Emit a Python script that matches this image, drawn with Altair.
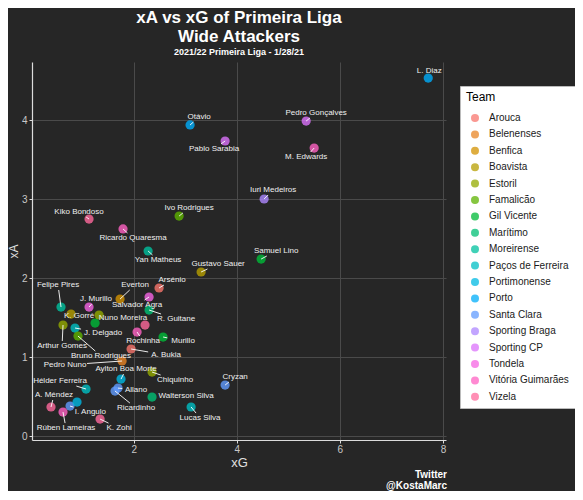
import math
import altair as alt
import pandas as pd

# ---------------- data ----------------
teams = ["Arouca", "Belenenses", "Benfica", "Boavista", "Estoril", "Famalicão",
         "Gil Vicente", "Marítimo", "Moreirense", "Paços de Ferreira", "Portimonense",
         "Porto", "Santa Clara", "Sporting Braga", "Sporting CP", "Tondela",
         "Vitória Guimarães", "Vizela"]

players = ["L. Diaz", "Otávio", "Pedro Gonçalves", "Pablo Sarabia", "M. Edwards",
           "Iuri Medeiros", "Ivo Rodrigues", "Kiko Bondoso", "Ricardo Quaresma", "Yan Matheus",
           "Samuel Lino", "Gustavo Sauer", "Arsénio", "Everton", "Salvador Agra",
           "R. Guitane", "Felipe Pires", "J. Murillo", "K. Gorré", "Nuno Moreira",
           "Arthur Gomes", "J. Delgado", "Bruno Rodrigues", "Rochinha", "Murillo",
           "A. Bukia", "Pedro Nuno", "Aylton Boa Morte", "Chiquinho", "Hélder Ferreira",
           "Allano", "Ricardinho", "Walterson Silva", "Lucas Silva", "Cryzan",
           "A. Méndez", "I. Angulo", "Rúben Lameiras", "K. Zohi", "", "", ""]

player_team = ["Porto", "Porto", "Sporting CP", "Sporting CP", "Vitória Guimarães",
               "Sporting Braga", "Famalicão", "Vizela", "Vitória Guimarães", "Moreirense",
               "Gil Vicente", "Boavista", "Arouca", "Benfica", "Tondela",
               "Marítimo", "Moreirense", "Tondela", "Boavista", "Gil Vicente",
               "Estoril", "Paços de Ferreira", "Famalicão", "Vitória Guimarães", "Gil Vicente",
               "Arouca", "Belenenses", "Portimonense", "Estoril", "Paços de Ferreira",
               "Santa Clara", "Santa Clara", "Marítimo", "Paços de Ferreira", "Santa Clara",
               "Vizela", "Santa Clara", "Vitória Guimarães", "Vizela", "Estoril", "Vizela",
               "Portimonense"]

xg = [7.715, 3.093, 5.346, 3.773, 5.501,
      4.530, 2.880, 1.132, 1.792, 2.278,
      4.472, 3.307, 2.491, 1.734, 2.297,
      2.297, 0.588, 1.132, 0.783, 1.249,
      0.627, 0.860, 0.918, 2.064, 2.569,
      1.948, 1.773, 1.753, 2.355, 1.074,
      1.695, 1.637, 2.355, 3.113, 3.773,
      0.394, 0.763, 0.627, 1.346, 1.326, 2.219, 0.899]

xa = [4.537, 3.942, 3.992, 3.739, 3.650,
      3.004, 2.788, 2.750, 2.624, 2.345,
      2.243, 2.079, 1.876, 1.736, 1.762,
      1.597, 1.635, 1.635, 1.546, 1.432,
      1.407, 1.369, 1.267, 1.318, 1.255,
      1.103, 0.951, 0.722, 0.811, 0.596,
      0.608, 0.570, 0.494, 0.368, 0.646,
      0.368, 0.380, 0.304, 0.215, 1.534, 1.407, 0.431]

# label centres, in data units
label_x = [7.734, 3.268, 5.540, 3.559, 5.346,
           4.705, 3.074, 0.938, 1.986, 2.472,
           4.763, 3.637, 2.744, 2.025, 2.064,
           2.821, 0.530, 1.268, 0.938, 1.792,
           0.608, 1.404, 1.365, 2.181, 2.957,
           2.627, 0.666, 1.850, 2.802, 0.569,
           2.045, 2.045, 3.016, 3.287, 3.967,
           0.452, 1.159, 0.685, 1.715, 1.326, 2.219, 0.899]

label_y = [4.626, 4.043, 4.094, 3.638, 3.536,
           3.118, 2.890, 2.839, 2.510, 2.231,
           2.345, 2.180, 1.977, 1.914, 1.660,
           1.483, 1.914, 1.736, 1.521, 1.496,
           1.141, 1.305, 1.014, 1.204, 1.204,
           1.027, 0.900, 0.849, 0.710, 0.697,
           0.583, 0.355, 0.507, 0.228, 0.748,
           0.520, 0.304, 0.101, 0.101, 1.534, 1.407, 0.431]

x_ticks = [2, 4, 6, 8]
y_ticks = [0, 1, 2, 3, 4]

# ---------------- styling ----------------
W, H = 414, 378
X_DOM = [0.025, 8.06]
Y_DOM = [-0.05, 4.74]
BG = "#262626"
FONT = "Liberation Sans"


def hcl_hex(h, c=100.0, l=65.0):
    Xn, Yn, Zn = 95.047, 100.0, 108.883
    den = Xn + 15 * Yn + 3 * Zn
    un, vn = 4 * Xn / den, 9 * Yn / den
    u = c * math.cos(math.radians(h))
    v = c * math.sin(math.radians(h))
    Y = Yn * ((l + 16) / 116) ** 3
    up = u / (13 * l) + un
    vp = v / (13 * l) + vn
    X = Y * 9 * up / (4 * vp)
    Z = Y * (12 - 3 * up - 20 * vp) / (4 * vp)
    X, Y, Z = X / 100, Y / 100, Z / 100
    r = 3.2404542 * X - 1.5371385 * Y - 0.4985314 * Z
    g = -0.9692660 * X + 1.8760108 * Y + 0.0415560 * Z
    b = 0.0556434 * X - 0.2040259 * Y + 1.0572252 * Z

    def gam(t):
        t = 12.92 * t if t <= 0.0031308 else 1.055 * t ** (1 / 2.4) - 0.055
        return max(0, min(255, round(t * 255)))

    return "#%02x%02x%02x" % (gam(r), gam(g), gam(b))


n = len(teams)
palette = [hcl_hex(15 + 360 * i / n) for i in range(n)]

# segment ends (label box edge), computed in pixel space
sx, sy, seg = [], [], []
kx = W / (X_DOM[1] - X_DOM[0])
ky = H / (Y_DOM[1] - Y_DOM[0])
for name, px, py, lx, ly in zip(players, xg, xa, label_x, label_y):
    dx = (lx - px) * kx
    dy = (ly - py) * ky
    hw = 2.05 * len(name) + 1.5
    hh = 5.0
    if abs(dx) <= hw and abs(dy) <= hh:
        sx.append(px); sy.append(py); seg.append(False)
        continue
    f = min(hw / abs(dx) if dx else 1e9, hh / abs(dy) if dy else 1e9)
    ex, ey = dx * (1 - f), dy * (1 - f)
    if math.hypot(ex, ey) < 2.5:
        sx.append(px); sy.append(py); seg.append(False)
        continue
    sx.append(px + ex / kx); sy.append(py + ey / ky); seg.append(True)

df = pd.DataFrame({"player": players, "Team": player_team, "xG": xg, "xA": xa,
                   "lx": label_x, "ly": label_y, "sx": sx, "sy": sy, "seg": seg})

xs = alt.Scale(domain=X_DOM, nice=False, zero=False)
ys = alt.Scale(domain=Y_DOM, nice=False, zero=False)

base = alt.Chart(df)

points = base.mark_circle(size=85, opacity=0.8).encode(
    x=alt.X("xG:Q", scale=xs, title="xG",
            axis=alt.Axis(values=x_ticks, format="d")),
    y=alt.Y("xA:Q", scale=ys, title="xA",
            axis=alt.Axis(values=y_ticks, format="d")),
    color=alt.Color("Team:N", scale=alt.Scale(domain=teams, range=palette),
                    legend=alt.Legend(title="Team", orient="none", legendX=428, legendY=24)),
)

segments = base.transform_filter("datum.seg").mark_rule(color="white", strokeWidth=0.9).encode(
    x="xG:Q", y="xA:Q", x2="sx:Q", y2="sy:Q"
)

labels = base.mark_text(font=FONT, fontSize=8, color="#f0f0f0", align="center",
                        baseline="middle").encode(
    x="lx:Q", y="ly:Q", text="player:N"
)

caption = alt.Chart(pd.DataFrame({"t": ["Twitter\n@KostaMarc"]})).mark_text(
    font=FONT, fontSize=10, fontWeight="bold", color="white", align="right",
    baseline="alphabetic", lineBreak="\n", lineHeight=11
).encode(x=alt.value(W + 1), y=alt.value(416), text="t:N")

chart = alt.layer(points, segments, labels, caption).properties(
    width=W, height=H,
    title=alt.TitleParams(
        text=["xA vs xG of Primeira Liga", "Wide Attackers"],
        subtitle="2021/22 Primeira Liga -  1/28/21",
        font=FONT, fontSize=17, fontWeight="bold", color="white", lineHeight=19,
        subtitleFont=FONT, subtitleFontSize=9, subtitleFontWeight="bold",
        subtitleColor="white", subtitlePadding=2,
        anchor="middle", frame="group", offset=4,
    ),
    autosize=alt.AutoSizeParams(type="none"),
    padding={"left": 24, "top": 54, "right": 129, "bottom": 51},
    background=BG,
).configure_view(stroke=None).configure_axis(
    grid=True, gridColor="#4a4a4a", gridWidth=1,
    domainColor="#dcdcdc", domainWidth=1.2,
    tickColor="#dcdcdc", tickSize=3,
    labelColor="#c8c8c8", labelFont=FONT, labelFontSize=10,
    titleColor="#e0e0e0", titleFont=FONT, titleFontSize=13, titleFontWeight="normal",
).configure_axisX(labelPadding=1, titlePadding=2).configure_axisY(
    labelPadding=2, titlePadding=1, titleFontSize=12
).configure_legend(
    fillColor="white", strokeColor="#bbbbbb", padding=6, cornerRadius=0,
    titleFont=FONT, titleFontSize=12, titleFontWeight="normal", titleColor="black",
    titlePadding=9,
    labelFont=FONT, labelFontSize=10, labelColor="#1a1a1a", labelOffset=9,
    symbolType="circle", symbolSize=64, symbolOpacity=0.75, symbolOffset=4,
    symbolStrokeWidth=0, rowPadding=6.4,
)

chart.save("out.html", embed_options={"renderer": "svg", "actions": False})
